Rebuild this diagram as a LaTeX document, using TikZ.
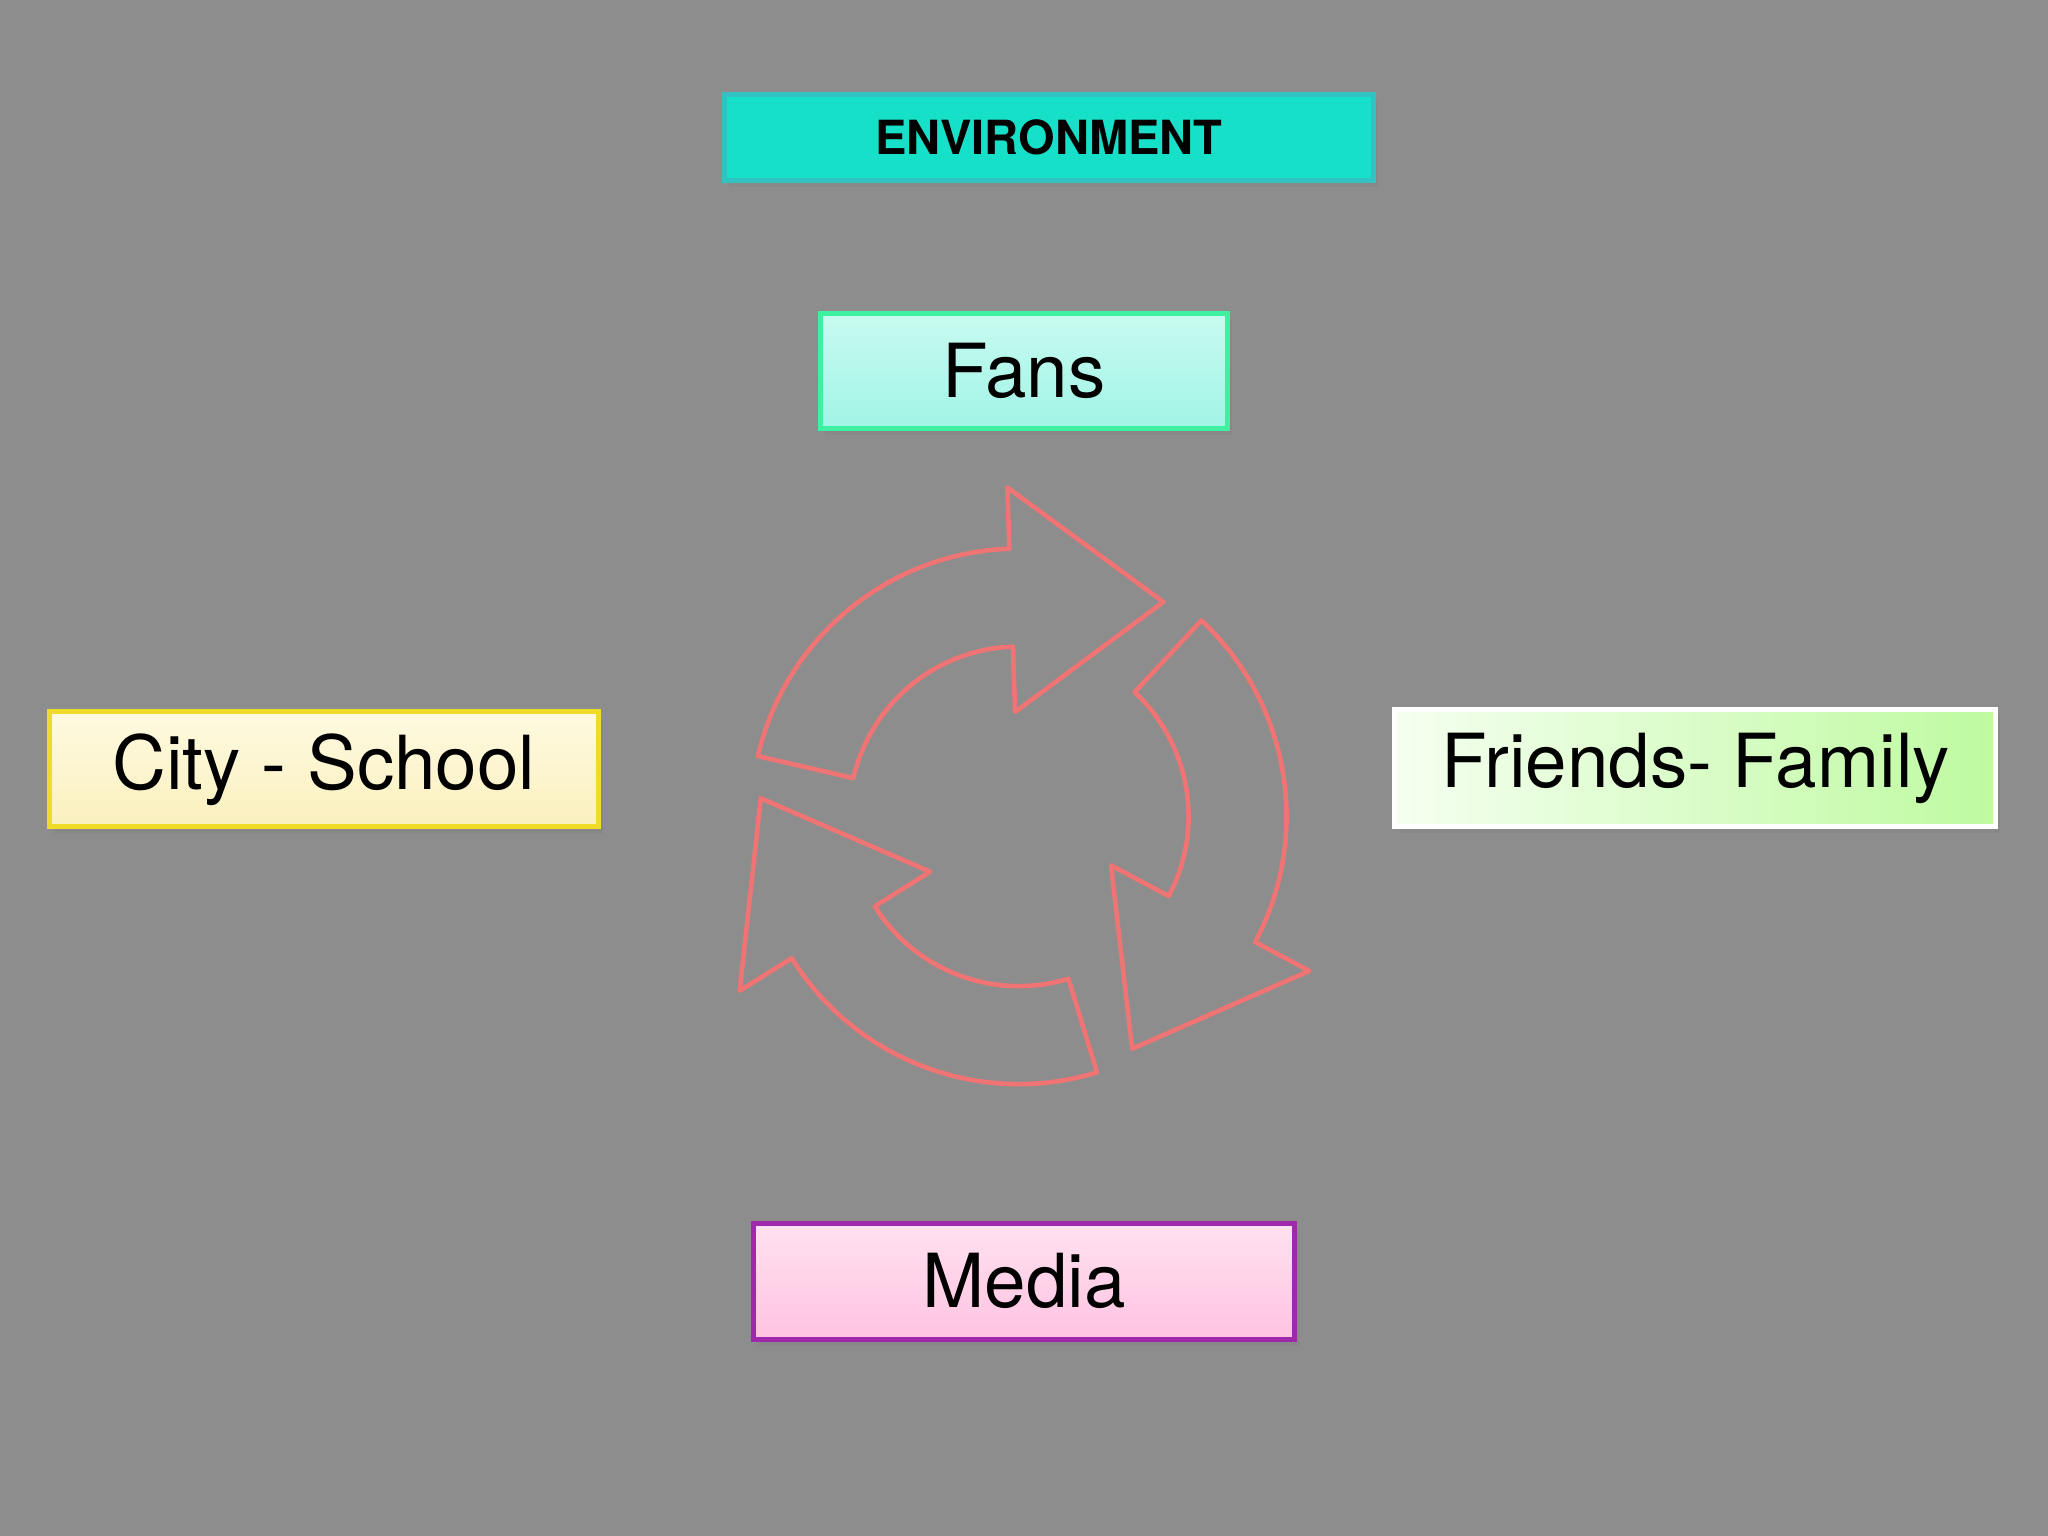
\documentclass[tikz,border=0pt]{standalone}
\usepackage{fontspec}
\setmainfont{TeX Gyre Heros}
\usetikzlibrary{shadows}
\definecolor{bg}{HTML}{8E8D8E}
\definecolor{arr}{HTML}{F07474}
\tikzset{
  box/.style={draw, line width=2.2pt, inner sep=0pt, drop shadow={shadow xshift=2pt,shadow yshift=-3pt,opacity=0.35}},
  cyc/.style={draw=arr, line width=2pt, line join=round},
  big/.style={font=\fontsize{32.5}{38}\selectfont},
}
\begin{document}
\begin{tikzpicture}[x=0.02cm,y=-0.02cm]
\fill[bg] (0,0) rectangle (1568,1176);
\useasboundingbox (0,0) rectangle (1568,1176);
\node[box, draw=teal!60!cyan!80, fill={rgb,255:red,23;green,224;blue,200}, minimum width=497*0.02cm, minimum height=66*0.02cm, font=\bfseries\fontsize{20.5}{24}\selectfont] (env) at (803,105) {ENVIRONMENT};
\node[box, big, draw={rgb,255:red,62;green,240;blue,160}, top color={rgb,255:red,200;green,250;blue,240}, bottom color={rgb,255:red,160;green,245;blue,230}, minimum width=312*0.02cm, minimum height=88*0.02cm] (fans) at (784,284) {Fans};
\node[box, big, draw={rgb,255:red,240;green,220;blue,40}, top color={rgb,255:red,255;green,250;blue,225}, bottom color={rgb,255:red,250;green,240;blue,190}, minimum width=420*0.02cm, minimum height=88*0.02cm] (city) at (248,589) {City - School};
\node[box, big, draw=white, left color={rgb,255:red,245;green,255;blue,240}, right color={rgb,255:red,190;green,250;blue,160}, minimum width=460*0.02cm, minimum height=89*0.02cm] (fam) at (1298,588) {Friends- Family};
\node[box, big, draw={rgb,255:red,160;green,40;blue,170}, top color={rgb,255:red,255;green,225;blue,240}, bottom color={rgb,255:red,255;green,195;blue,225}, minimum width=414*0.02cm, minimum height=89*0.02cm] (media) at (784,981) {Media};
\begin{scope}[shift={(780,625)}, yscale=-1]
\foreach \r in {0,-120,-240}{
 \begin{scope}[rotate=\r]
 \draw[cyc] (167:205) arc[start angle=167,end angle=92,radius=205] -- (92:252) -- (56:198) -- (92:80) -- (92:130) arc[start angle=92,end angle=167,radius=130] -- cycle;
 \end{scope}
}
\end{scope}
\end{tikzpicture}
\end{document}
